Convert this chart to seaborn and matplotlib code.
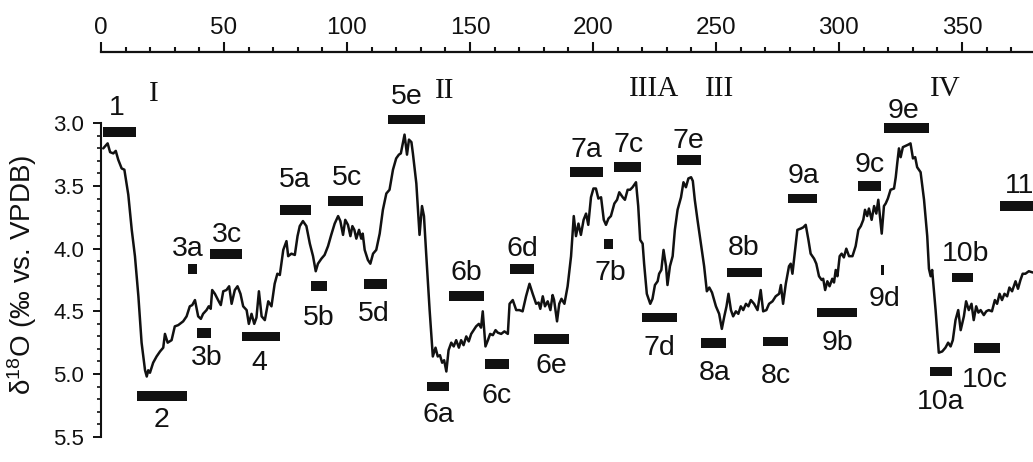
import numpy as np
import pandas as pd
import matplotlib
matplotlib.use("Agg")
import matplotlib.pyplot as plt
from matplotlib import font_manager
from matplotlib.ticker import MultipleLocator, FixedLocator
import seaborn as sns

# ---------------- data ----------------
age_ka = [0.9, 2.7, 3.7, 5.0, 6.0, 7.0, 8.4, 9.5, 11.1, 12.5, 13.8, 15.2, 16.5, 17.9, 18.6, 19.2, 19.9,
          21.2, 22.6, 24.0, 25.3, 26.0, 27.1, 28.7, 30.0, 31.4, 33.4, 34.8, 36.1, 37.1, 38.2, 39.5,
          40.6, 41.5, 42.9, 43.8, 44.6, 45.2, 46.3, 47.6, 48.7, 49.7, 51.0, 52.1, 53.1, 54.4, 55.5,
          56.7, 57.8, 59.2, 60.1, 61.2, 62.3, 63.2, 64.2, 65.3, 66.6, 68.0, 69.3, 70.6, 71.7, 72.7,
          74.1, 75.4, 76.1, 77.4, 78.8, 79.9, 80.8, 82.1, 83.5, 84.9, 86.2, 87.3, 88.2, 89.6, 90.9,
          92.3, 93.6, 95.0, 96.4, 97.3, 98.4, 99.3, 100.4, 101.4, 102.2, 103.0, 103.8, 104.9, 105.8,
          106.4, 107.2, 108.5, 109.5, 110.6, 111.9, 113.3, 114.6, 116.0, 117.3, 118.7, 120.0, 121.1,
          121.9, 122.7, 123.4, 124.4, 125.2, 126.2, 126.8, 128.2, 129.5, 130.5, 131.3, 132.2, 133.6,
          134.9, 136.0, 136.9, 137.8, 138.7, 139.5, 140.4, 141.3, 142.4, 143.4, 144.4, 145.5, 146.4,
          147.4, 148.5, 149.5, 150.5, 151.5, 152.5, 153.6, 154.5, 155.2, 156.3, 157.3, 158.2, 159.3,
          160.4, 161.3, 162.7, 164.0, 165.4, 166.1, 167.4, 168.8, 170.1, 171.4, 172.8, 174.2, 175.5,
          176.9, 177.9, 178.6, 179.6, 180.5, 181.6, 182.7, 183.6, 184.2, 185.4, 186.3, 187.2, 188.4,
          189.7, 191.1, 192.2, 193.1, 194.1, 195.1, 196.2, 197.2, 198.1, 199.2, 200.2, 201.2, 202.2,
          203.3, 204.4, 205.3, 206.3, 207.3, 208.7, 209.8, 210.7, 212.1, 213.0, 214.1, 215.1, 216.1,
          217.5, 218.4, 219.2, 220.2, 220.8, 221.9, 223.3, 224.2, 225.2, 226.3, 226.9, 227.8, 228.7,
          229.7, 230.3, 231.3, 232.4, 233.3, 234.4, 235.8, 236.8, 237.8, 238.8, 239.9, 240.6, 241.4,
          242.5, 243.9, 245.2, 246.3, 247.3, 248.4, 250.0, 251.3, 252.4, 253.4, 254.3, 255.1, 256.1,
          257.0, 258.1, 259.1, 260.1, 261.1, 262.2, 263.2, 264.2, 265.5, 266.9, 268.2, 269.2, 270.5,
          271.6, 273.0, 274.3, 275.7, 276.4, 277.3, 278.4, 279.7, 280.4, 281.1, 282.2, 283.1, 284.5,
          285.5, 286.5, 287.6, 288.5, 289.9, 290.8, 291.9, 293.0, 293.6, 294.4, 295.3, 296.2, 297.3,
          298.0, 298.7, 299.4, 300.3, 301.1, 302.0, 303.0, 304.1, 305.5, 306.8, 307.9, 308.9, 309.9,
          310.6, 311.5, 312.2, 313.3, 314.3, 315.2, 316.0, 317.4, 318.3, 319.0, 319.9, 321.0, 322.4,
          323.1, 323.7, 324.4, 325.1, 326.0, 327.1, 328.2, 329.1, 330.1, 331.0, 331.8, 333.2, 334.6,
          335.9, 336.6, 337.3, 337.9, 339.3, 340.6, 342.0, 343.3, 344.4, 345.4, 346.3, 347.4, 348.5,
          349.5, 350.8, 351.7, 352.8, 353.9, 354.8, 355.8, 356.7, 357.6, 358.9, 359.9, 360.9, 362.2,
          363.4, 364.3, 365.3, 366.3, 367.3, 368.4, 369.3, 370.4, 371.8, 372.8, 373.8, 374.7, 375.8,
          377.2, 378.8]
d18o = [3.20, 3.16, 3.23, 3.24, 3.22, 3.29, 3.36, 3.37, 3.57, 3.85, 4.06, 4.38, 4.75, 4.97, 5.02, 4.97, 4.99,
        4.91, 4.86, 4.82, 4.79, 4.68, 4.75, 4.73, 4.62, 4.61, 4.58, 4.54, 4.46, 4.45, 4.41, 4.54,
        4.56, 4.52, 4.49, 4.46, 4.48, 4.33, 4.36, 4.41, 4.45, 4.34, 4.33, 4.30, 4.44, 4.33, 4.30,
        4.36, 4.46, 4.49, 4.60, 4.52, 4.60, 4.55, 4.34, 4.54, 4.57, 4.42, 4.46, 4.28, 4.20, 4.21,
        4.01, 3.94, 4.06, 4.04, 4.05, 3.90, 3.82, 3.78, 3.82, 3.96, 4.06, 4.18, 4.12, 4.08, 4.05,
        3.98, 3.89, 3.80, 3.74, 3.78, 3.89, 3.77, 3.81, 3.90, 3.82, 3.85, 3.92, 3.85, 3.92,
        3.88, 4.01, 4.09, 4.12, 4.04, 4.01, 3.88, 3.69, 3.56, 3.53, 3.37, 3.28, 3.25,
        3.24, 3.16, 3.09, 3.25, 3.13, 3.15, 3.24, 3.48, 3.89, 3.66, 3.74, 4.04, 4.49,
        4.86, 4.79, 4.86, 4.85, 4.91, 4.89, 4.98, 4.81, 4.75, 4.78, 4.73, 4.79, 4.73,
        4.77, 4.70, 4.74, 4.68, 4.65, 4.62, 4.60, 4.63, 4.50, 4.78, 4.73, 4.68, 4.69,
        4.65, 4.67, 4.68, 4.66, 4.68, 4.44, 4.41, 4.49, 4.49, 4.50, 4.38, 4.28, 4.36,
        4.44, 4.43, 4.48, 4.38, 4.46, 4.42, 4.49, 4.37, 4.41, 4.58, 4.44, 4.40, 4.44,
        4.30, 4.06, 3.74, 3.90, 3.80, 3.89, 3.77, 3.72, 3.81, 3.59, 3.52, 3.52, 3.60,
        3.59, 3.77, 3.81, 3.76, 3.74, 3.64, 3.61, 3.55, 3.59, 3.61, 3.53, 3.53, 3.51,
        3.47, 3.66, 3.93, 3.96, 4.12, 4.36, 4.44, 4.40, 4.29, 4.26, 4.20, 4.17, 4.01,
        4.14, 4.29, 4.14, 4.06, 3.85, 3.69, 3.59, 3.47, 3.51, 3.44, 3.43, 3.46, 3.61,
        3.77, 3.96, 4.14, 4.34, 4.31, 4.35, 4.46, 4.52, 4.64, 4.54, 4.46, 4.36, 4.49,
        4.54, 4.50, 4.52, 4.46, 4.49, 4.44, 4.46, 4.41, 4.44, 4.49, 4.33, 4.50, 4.49,
        4.44, 4.42, 4.38, 4.36, 4.29, 4.44, 4.28, 4.14, 4.12, 4.20, 4.01, 3.85, 3.84,
        3.83, 3.81, 3.93, 4.04, 4.08, 4.12, 4.22, 4.25, 4.24, 4.33, 4.26, 4.30, 4.24,
        4.27, 4.17, 4.22, 4.06, 4.04, 4.07, 4.00, 4.06, 4.06, 3.98, 3.85, 3.82, 3.77,
        3.69, 3.74, 3.68, 3.77, 3.66, 3.72, 3.61, 3.88, 3.66, 3.64, 3.60, 3.53, 3.52,
        3.43, 3.32, 3.20, 3.27, 3.19, 3.18, 3.17, 3.16, 3.28, 3.27, 3.35, 3.39, 3.61,
        3.90, 4.16, 4.22, 4.17, 4.49, 4.83, 4.82, 4.79, 4.75, 4.78, 4.73, 4.57, 4.49,
        4.65, 4.54, 4.42, 4.49, 4.44, 4.57, 4.46, 4.51, 4.49, 4.53, 4.50, 4.49, 4.50,
        4.41, 4.44, 4.36, 4.41, 4.36, 4.38, 4.31, 4.34, 4.26, 4.32, 4.25, 4.20, 4.20,
        4.18, 4.19]

stage_names = ["1", "2", "3a", "3b", "3c", "4", "5a", "5b", "5c", "5d", "5e",
               "6a", "6b", "6c", "6d", "6e", "7a", "7b", "7c", "7d", "7e",
               "8a", "8b", "8c", "9a", "9b", "9c", "9d", "9e", "10a", "10b", "10c", "11"]
stage_start = [1.0, 14.5, 35.2, 39.2, 44.5, 57.5, 72.7, 85.5, 92.3, 106.8, 116.7,
               132.6, 141.4, 156.2, 166.1, 176.2, 190.7, 204.4, 208.4, 219.8, 234.1,
               244.1, 254.3, 269.2, 279.1, 291.2, 307.8, 317.0, 318.3, 337.0, 346.1, 354.9, 365.3]
stage_end = [14.4, 34.8, 39.1, 44.6, 57.4, 72.7, 85.5, 92.0, 106.5, 116.2, 131.9,
             141.3, 155.9, 165.8, 175.9, 190.4, 204.1, 208.0, 219.5, 234.1, 244.1,
             254.0, 268.9, 279.1, 291.2, 307.5, 317.0, 318.3, 336.6, 346.1, 354.6, 365.3, 390.0]
stage_value = [3.07, 5.175, 4.16, 4.67, 4.04, 4.70, 3.69, 4.30, 3.62, 4.28, 2.97,
               5.10, 4.38, 4.92, 4.16, 4.72, 3.39, 3.96, 3.35, 4.55, 3.29,
               4.755, 4.19, 4.74, 3.60, 4.51, 3.50, 4.17, 3.035, 4.98, 4.23, 4.79, 3.66]
label_x = [6.5, 24.4, 35.1, 43.0, 51.1, 64.3, 78.6, 88.7, 99.9, 111.0, 124.3,
           137.1, 148.7, 160.9, 171.3, 183.2, 197.4, 207.2, 214.3, 227.2, 238.7,
           249.6, 261.1, 274.3, 285.5, 299.5, 312.6, 318.7, 326.1, 341.3, 351.6, 359.3, 373.6]
label_y = [2.854, 5.34, 3.98, 4.85, 3.865, 4.89, 3.43, 4.53, 3.41, 4.50, 2.77,
           5.30, 4.17, 5.15, 3.98, 4.91, 3.19, 4.17, 3.15, 4.77, 3.12,
           4.97, 3.97, 4.99, 3.40, 4.73, 3.31, 4.38, 2.88, 5.20, 4.02, 5.02, 3.48]

period_names = ["I", "II", "IIIA", "III", "IV"]
period_x = [21.5, 139.8, 224.8, 251.3, 343.1]
period_y = [2.74, 2.72, 2.70, 2.70, 2.70]

x_ticks = [0, 50, 100, 150, 200, 250, 300, 350]
y_ticks = [3.0, 3.5, 4.0, 4.5, 5.0, 5.5]
y_minor_ticks = [3.1, 3.2, 3.3, 3.4, 3.6, 3.7, 3.8, 3.9, 4.1, 4.2, 4.3, 4.4,
                 4.6, 4.7, 4.8, 4.9, 5.1, 5.2, 5.3, 5.4]

# ---------------- style ----------------
sns.set_theme(style="ticks")
plt.rcParams["font.family"] = ["Liberation Sans", "DejaVu Sans"]
plt.rcParams["mathtext.fontset"] = "custom"
plt.rcParams["mathtext.rm"] = "Liberation Sans"
plt.rcParams["mathtext.it"] = "Liberation Sans:italic"
plt.rcParams["mathtext.bf"] = "Liberation Sans:bold"

names = {f.name for f in font_manager.fontManager.ttflist}
if "Liberation Sans Narrow" in names:
    xtick_family, xtick_size = "Liberation Sans Narrow", 19.5
else:
    xtick_family, xtick_size = "Liberation Sans", 17.5

W, H = 1033, 462
fig = plt.figure(figsize=(W / 100, H / 100), dpi=100)
fig.patch.set_facecolor("white")
ax = fig.add_axes([101 / W, 0, 932 / W, 410 / H])
ax.set_facecolor("white")

df = pd.DataFrame({"age": age_ka, "d18o": d18o})
sns.lineplot(data=df, x="age", y="d18o", color="#111111", linewidth=1.8, ax=ax,
             sort=False, estimator=None)

widths = [e - s for s, e in zip(stage_start, stage_end)]
ax.barh(stage_value, widths, left=stage_start, height=0.078, color="#111111",
        edgecolor="none", zorder=3)

for name, x, y in zip(stage_names, label_x, label_y):
    ax.text(x, y, name, ha="center", va="center_baseline", fontsize=20.5,
            color="#111111", clip_on=False)
for name, x, y in zip(period_names, period_x, period_y):
    ax.text(x, y, name, ha="center", va="center_baseline", fontsize=21,
            family="Liberation Serif", color="#111111", clip_on=False)

ax.set_xlim(0, 378.9)
ax.set_ylim(5.702, 2.431)

ax.xaxis.tick_top()
ax.xaxis.set_label_position("top")
ax.set_xticks(x_ticks)
ax.set_xticklabels([str(v) for v in x_ticks], family=xtick_family, fontsize=xtick_size)
ax.xaxis.set_minor_locator(MultipleLocator(10))
ax.tick_params(axis="x", which="major", direction="out", length=7.2, width=1.5,
               pad=2.5, colors="#111111", top=True, bottom=False)
ax.tick_params(axis="x", which="minor", direction="out", length=3.6, width=1.5,
               top=True, bottom=False, colors="#111111")

ax.set_yticks(y_ticks)
ax.set_yticklabels([f"{v:.1f}" for v in y_ticks], fontsize=16)
ax.yaxis.set_minor_locator(FixedLocator(y_minor_ticks))
ax.tick_params(axis="y", which="major", direction="out", length=5.8, width=1.4,
               pad=6.5, colors="#111111")
ax.tick_params(axis="y", which="minor", direction="out", length=2.6, width=1.2,
               colors="#111111")

ax.set_xlabel("")
ax.set_ylabel(r"δ$^{18}$O (‰ vs. VPDB)", fontsize=20, color="#111111",
              ha="center", va="center")
ax.yaxis.set_label_coords((22 - 101) / 932, (462 - 274.5) / 410)

for side in ["bottom", "right"]:
    ax.spines[side].set_visible(False)
ax.spines["top"].set_linewidth(1.6)
ax.spines["top"].set_color("#111111")
ax.spines["left"].set_linewidth(1.5)
ax.spines["left"].set_color("#111111")
ax.spines["left"].set_bounds(3.0, 5.5)

fig.savefig("out.png", dpi=100, facecolor="white")
